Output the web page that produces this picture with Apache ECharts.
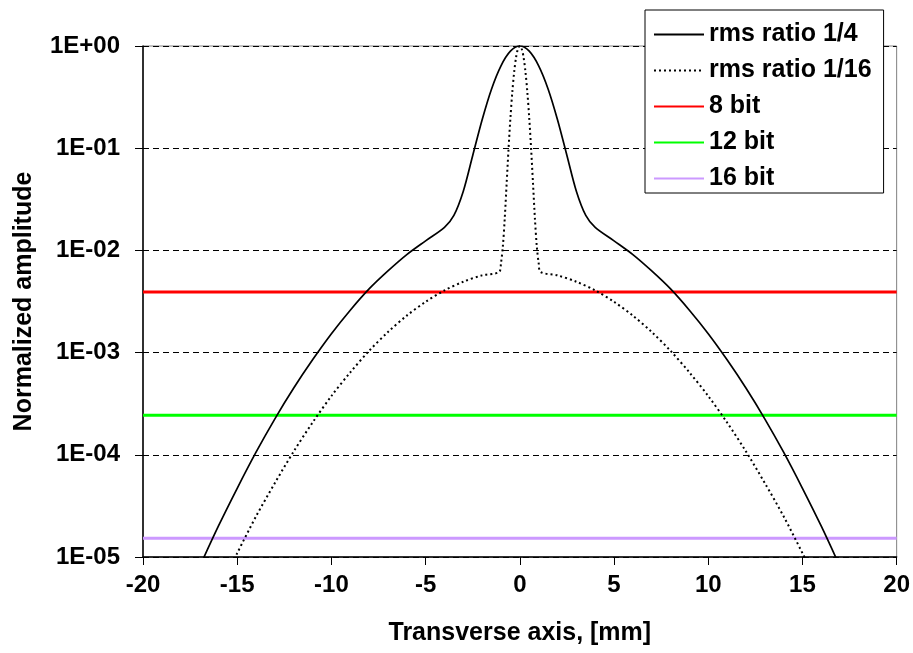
<!DOCTYPE html>
<html>
<head>
<meta charset="utf-8">
<script src="https://cdn.jsdelivr.net/npm/echarts@6/dist/echarts.min.js"></script>
<style>
  html, body { margin: 0; padding: 0; background: #fff; }
  #chart { width: 913px; height: 653px; }
</style>
</head>
<body>
<div id="chart"></div>
<script>
// rms ratio 1/4 (solid)
const ratio4X = [-17, -16, -15, -14, -13, -12, -11, -10, -9, -8, -7, -6, -5, -4, -3.5, -3, -2.5, -2, -1.5, -1, -0.5, 0,
  0.5, 1, 1.5, 2, 2.5, 3, 3.5, 4, 5, 6, 7, 8, 9, 10, 11, 12, 13, 14, 15, 16, 17];
const ratio4Y = [8e-6, 2e-5, 4.7e-5, 1.06e-4, 2.25e-4, 4.5e-4, 8.5e-4, 1.53e-3, 2.6e-3, 4.2e-3, 6.3e-3, 9.1e-3, 1.24e-2, 1.68e-2, 2.2e-2, 3.8e-2, 8.5e-2, 0.19, 0.38, 0.64, 0.89, 1,
  0.89, 0.64, 0.38, 0.19, 8.5e-2, 3.8e-2, 2.2e-2, 1.68e-2, 1.24e-2, 9.1e-3, 6.3e-3, 4.2e-3, 2.6e-3, 1.53e-3, 8.5e-4, 4.5e-4, 2.25e-4, 1.06e-4, 4.7e-5, 2e-5, 8e-6];

// rms ratio 1/16 (dotted)
const ratio16X = [-15.5, -15, -14, -13, -12, -11, -10, -9, -8, -7, -6, -5, -4, -3, -2, -1.1, -1, -0.9, -0.8, -0.7, -0.6, -0.5, -0.4, -0.3, -0.2, -0.1, 0,
  0.1, 0.2, 0.3, 0.4, 0.5, 0.6, 0.7, 0.8, 0.9, 1, 1.1, 2, 3, 4, 5, 6, 7, 8, 9, 10, 11, 12, 13, 14, 15, 15.5];
const ratio16Y = [7e-6, 1.09e-5, 2.5e-5, 5.3e-5, 1.08e-4, 2.07e-4, 3.76e-4, 6.4e-4, 1.04e-3, 1.59e-3, 2.3e-3, 3.14e-3, 4.06e-3, 4.94e-3, 5.7e-3, 6.15e-3, 7.5e-3, 1.1e-2, 2.06e-2, 4.5e-2, 9.8e-2, 0.197, 0.352, 0.557, 0.773, 0.94, 1,
  0.94, 0.773, 0.557, 0.352, 0.197, 9.8e-2, 4.5e-2, 2.06e-2, 1.1e-2, 7.5e-3, 6.15e-3, 5.7e-3, 4.94e-3, 4.06e-3, 3.14e-3, 2.3e-3, 1.59e-3, 1.04e-3, 6.4e-4, 3.76e-4, 2.07e-4, 1.08e-4, 5.3e-5, 2.5e-5, 1.09e-5, 7e-6];

// ADC quantisation levels
const bitNames = ['8 bit', '12 bit', '16 bit'];
const bitLevels = [1 / 256, 1 / 4096, 1 / 65536];
const bitColors = ['#ff0000', '#00ff00', '#cc99ff'];

const xRange = [-20, 20];
const yTickLabels = ['1E-05', '1E-04', '1E-03', '1E-02', '1E-01', '1E+00'];

const font = 'Liberation Sans, Arial, sans-serif';

function pairs(xs, ys) {
  return xs.map((x, i) => [x, ys[i]]);
}

const bitSeries = bitNames.map((name, i) => ({
  name: name,
  type: 'line',
  symbol: 'none',
  z: 1,
  lineStyle: { color: bitColors[i], width: 3 },
  itemStyle: { color: bitColors[i] },
  data: [[xRange[0], bitLevels[i]], [xRange[1], bitLevels[i]]]
}));

const chart = echarts.init(document.getElementById('chart'));
chart.setOption({
  animation: false,
  backgroundColor: '#fff',
  grid: {
    left: 143, right: 16, top: 46, bottom: 96,
    show: true, borderColor: '#808080', borderWidth: 1
  },
  legend: {
    orient: 'vertical',
    left: 645, top: 10,
    padding: [12, 12, 2, 8],
    itemGap: 11,
    itemWidth: 50,
    itemHeight: 14,
    backgroundColor: '#fff',
    borderColor: '#000',
    borderWidth: 1,
    borderRadius: 0,
    itemStyle: { opacity: 0 },
    data: ['rms ratio 1/4', 'rms ratio 1/16'].concat(bitNames),
    textStyle: { fontFamily: font, fontWeight: 'bold', fontSize: 25, color: '#000' }
  },
  xAxis: {
    type: 'value',
    min: xRange[0], max: xRange[1], interval: 5,
    name: 'Transverse axis, [mm]',
    nameLocation: 'middle',
    nameGap: 64,
    nameTextStyle: { fontFamily: font, fontWeight: 'bold', fontSize: 25, color: '#000' },
    axisLine: { lineStyle: { color: '#000', width: 1.5 } },
    axisTick: { inside: false, length: 8, lineStyle: { color: '#000' } },
    axisLabel: { margin: 16, fontFamily: font, fontWeight: 'bold', fontSize: 24, color: '#000' },
    splitLine: { show: false }
  },
  yAxis: {
    type: 'log',
    logBase: 10,
    min: 1e-5, max: 1,
    name: 'Normalized amplitude',
    nameLocation: 'middle',
    nameGap: 106,
    nameTextStyle: { fontFamily: font, fontWeight: 'bold', fontSize: 25, color: '#000' },
    axisLine: { show: true, onZero: false, lineStyle: { color: '#000', width: 1.5 } },
    axisTick: { show: true, inside: false, length: 8, lineStyle: { color: '#000' } },
    axisLabel: {
      margin: 23, fontFamily: font, fontWeight: 'bold', fontSize: 24, color: '#000',
      formatter: v => yTickLabels[Math.round(Math.log10(v)) + 5]
    },
    splitLine: { show: true, lineStyle: { color: '#000', width: 1, type: [6, 4] } }
  },
  series: bitSeries.concat([
    {
      name: 'rms ratio 1/4',
      type: 'line',
      symbol: 'none',
      smooth: 0.3,
      z: 3,
      lineStyle: { color: '#000', width: 1.7 },
      itemStyle: { color: '#000' },
      data: pairs(ratio4X, ratio4Y)
    },
    {
      name: 'rms ratio 1/16',
      type: 'line',
      symbol: 'none',
      smooth: 0.3,
      z: 3,
      lineStyle: { color: '#000', width: 2, type: [2, 3] },
      itemStyle: { color: '#000' },
      data: pairs(ratio16X, ratio16Y)
    }
  ])
});
</script>
</body>
</html>
